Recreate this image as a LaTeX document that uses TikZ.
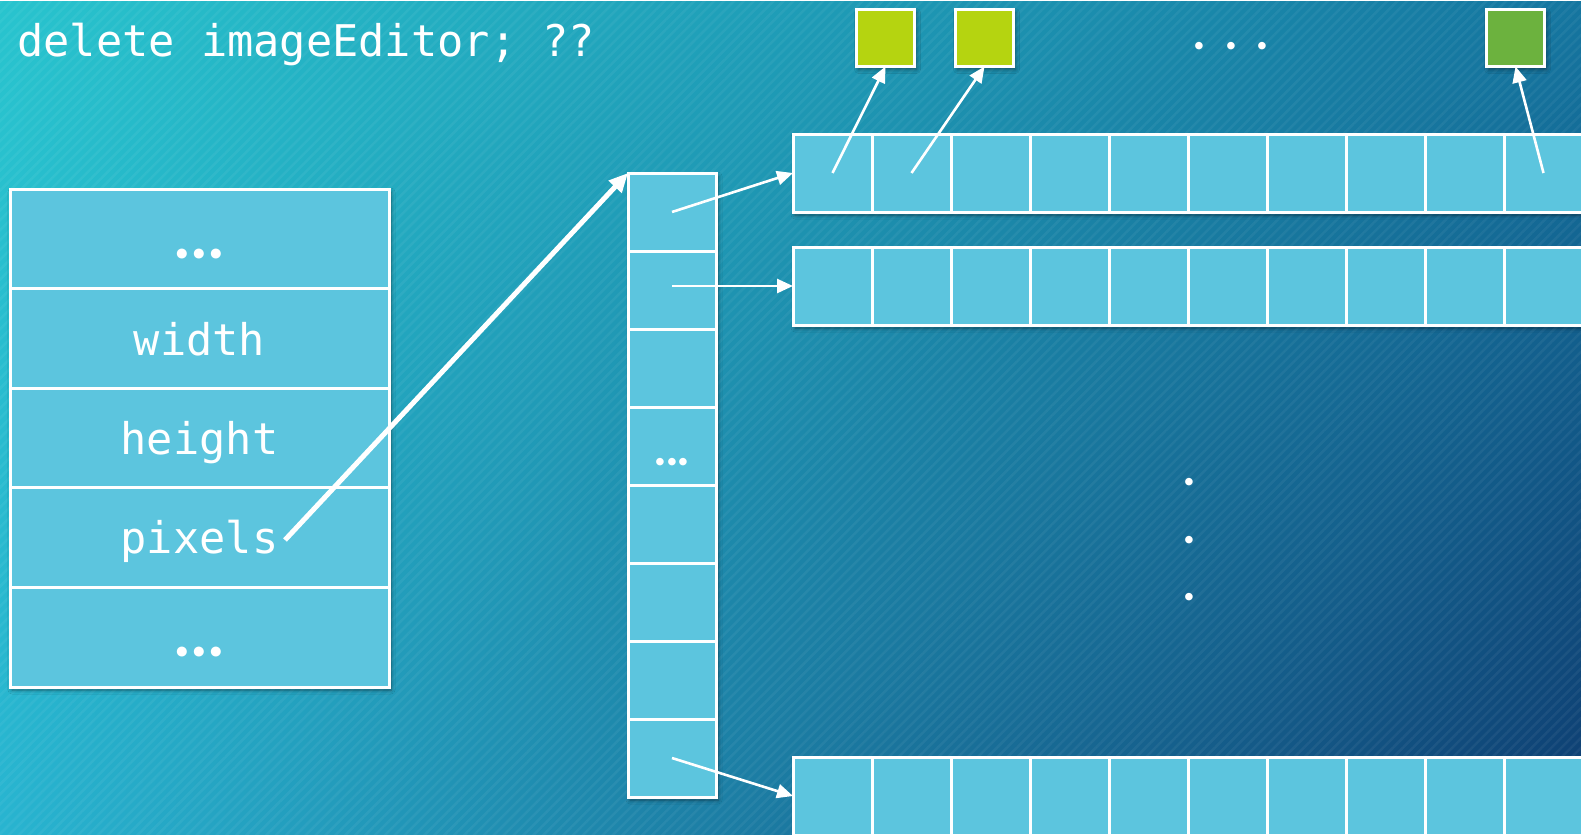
\documentclass[tikz,border=0pt]{standalone}
\usepackage{fontspec}
\newfontfamily\codefont{DejaVu Sans Mono}
\newfontfamily\dotfont{Lato}
\usetikzlibrary{arrows.meta,shadows.blur,patterns.meta}

\definecolor{boxfill}{RGB}{92,197,222}
\definecolor{limegreen}{RGB}{181,212,16}
\definecolor{leafgreen}{RGB}{108,178,62}

% bilinear background: teal in the upper left, deep blue in the lower right
\pgfdeclarefunctionalshading{bgshade}{\pgfpointorigin}{\pgfpoint{1581bp}{834bp}}{}{
  834 div exch 1581 div exch
  1 index 1 index mul 7 mul 2 index -26 mul add 40 add 255 div
  2 index 2 index mul 42 mul 3 index -120 mul add 2 index 16 mul add 180 add 255 div
  3 index 3 index mul 50 mul 4 index -96 mul add 3 index -2 mul add 208 add 255 div
  5 3 roll pop pop
}

% three dots with a given gap between them
\newcommand\dotrun[1]{.\hspace{#1}.\hspace{#1}.}

\begin{document}
\begin{tikzpicture}[x=1bp,y=-1bp,
  cell/.style={draw=white, line width=3bp, fill=boxfill, inner sep=0pt, outer sep=0pt},
  grpshadow/.style={blur shadow={shadow xshift=2bp, shadow yshift=-3bp,
      shadow blur radius=4bp, shadow blur steps=6, shadow opacity=45}},
  square/.style={draw=white, line width=3bp, inner sep=0pt, outer sep=0pt,
      minimum width=58bp, minimum height=57bp, anchor=north west, grpshadow},
  code/.style={text=white, inner sep=0pt, font=\codefont\fontsize{43.8}{50}\selectfont},
  bigdots/.style={text=white, inner sep=0pt, font=\dotfont\bfseries\fontsize{66}{70}\selectfont},
  smalldots/.style={text=white, inner sep=0pt, font=\dotfont\bfseries\fontsize{50}{54}\selectfont},
  thin/.style={draw=white, line width=2.6bp, -{Triangle[length=16bp,width=14bp]}},
  thick/.style={draw=white, line width=5bp, -{Triangle[length=19bp,width=17bp]}}]

\useasboundingbox (0,0) rectangle (1581,834);
\clip (0,0) rectangle (1581,834);

% background gradient and faint diagonal stripes
\node[inner sep=0pt, outer sep=0pt, anchor=north west] (bg) at (0,0) {\pgfuseshading{bgshade}};
\fill[pattern={Lines[angle=45,distance=7bp,line width=2.5bp]}, pattern color=white, opacity=0.05]
  (0,0) rectangle (1581,834);

% heading
\node[code, anchor=base west] (title) at (17,56) {delete imageEditor; ??};

% object record
\path[grpshadow] (10,189) rectangle (389,687);
\foreach \i in {1,...,5}{
  \node[cell, minimum width=379bp, minimum height=99.6bp, anchor=north west]
    (s\i) at (10,{189+99.6*(\i-1)}) {};
}
\node[bigdots, anchor=base] (sdotsA) at (199.5,258.5) {\dotrun{1.5bp}};
\node[code, anchor=base] (lwidth) at (199.5,355) {width};
\node[code, anchor=base] (lheight) at (199.5,454) {height};
\node[code, anchor=base] (lpixels) at (199.5,553) {pixels};
\node[bigdots, anchor=base] (sdotsB) at (199.5,656.5) {\dotrun{1.5bp}};
\coordinate (pixptr) at (285,540);

% array of row pointers
\path[grpshadow] (628,173) rectangle (716,797);
\foreach \i in {1,...,8}{
  \node[cell, minimum width=88bp, minimum height=78bp, anchor=north west]
    (col\i) at (628,{173+78*(\i-1)}) {};
}
\node[smalldots, anchor=base] (cdots) at (672,465) {\dotrun{0bp}};

% pixel rows
\foreach \r/\y in {1/134,2/247,3/757}{
  \path[grpshadow] (793,\y) rectangle (1640,{\y+78});
  \foreach \c in {0,...,9}{
    \node[cell, minimum width=79bp, minimum height=78bp, anchor=north west]
      (r\r-\c) at ({793+79*\c},\y) {};
  }
}

% pixel objects
\node[square, fill=limegreen] (sq1) at (856.5,9.5) {};
\node[square, fill=limegreen] (sq2) at (955.5,9.5) {};
\node[square, fill=leafgreen] (sq3) at (1486.5,9.5) {};
\node[smalldots, anchor=base] (hdots) at (1231,49) {\dotrun{19.5bp}};

% vertical ellipsis between rows
\node[smalldots, anchor=base] (vd1) at (1189,485) {.};
\node[smalldots, anchor=base] (vd2) at (1189,543) {.};
\node[smalldots, anchor=base] (vd3) at (1189,600) {.};

% connectors
\draw[thick] (pixptr) -- (col1.north west);
\draw[thin] (col1.center) -- (r1-0.west);
\draw[thin] (r2-0.west -| col2.center) -- (r2-0.west);
\draw[thin] (col8.center) -- (r3-0.west);
\draw[thin] (r1-0.center) -- (sq1.south);
\draw[thin] (r1-1.center) -- (sq2.south);
\draw[thin] (r1-9.center) -- (sq3.south);
\end{tikzpicture}
\end{document}
